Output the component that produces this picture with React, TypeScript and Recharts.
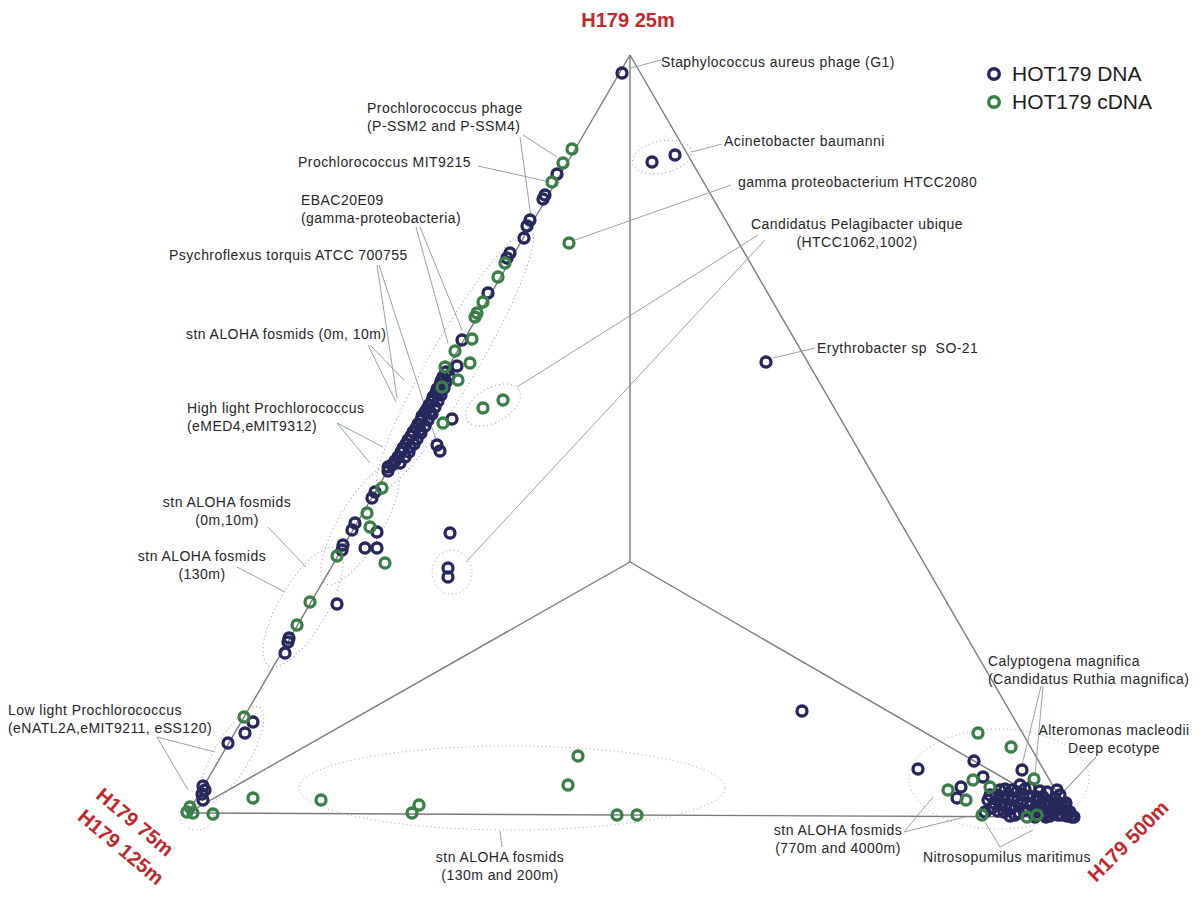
import { ScatterChart, Scatter, XAxis, YAxis, ReferenceLine, Legend } from "recharts"

const W = 1202
const H = 909
const FONT = '"Liberation Sans", Arial, Helvetica, sans-serif'
const DNA_COLOR = "#26275c"
const CDNA_COLOR = "#3a7f48"
const TITLE_RED = "#c1272d"

// corners of the projected simplex (plot units)
const apex = { x: 630, y: 55 }
const centre = { x: 630, y: 562 }
const cornerLeft = { x: 188, y: 813 }
const cornerRight = { x: 1071, y: 817 }

const frameEdges = [
  [apex, cornerLeft],
  [apex, cornerRight],
  [cornerLeft, cornerRight],
  [centre, apex],
  [centre, cornerLeft],
  [centre, cornerRight],
]

// HOT179 DNA
const dnaPoints = [
  { x: 622, y: 73 }, { x: 652, y: 162 }, { x: 675, y: 155 }, { x: 766, y: 362 },
  { x: 557, y: 174 }, { x: 545, y: 195 }, { x: 543, y: 199 }, { x: 530, y: 220 },
  { x: 527, y: 226 }, { x: 524, y: 238 }, { x: 510, y: 253 }, { x: 507, y: 258 },
  { x: 488, y: 293 }, { x: 462, y: 340 }, { x: 457, y: 366 },
  { x: 446, y: 372 }, { x: 443, y: 377 }, { x: 441, y: 381 }, { x: 440, y: 385 },
  { x: 437, y: 389 }, { x: 436, y: 393 }, { x: 433, y: 397 }, { x: 432, y: 401 },
  { x: 429, y: 405 }, { x: 427, y: 409 }, { x: 425, y: 412 }, { x: 422, y: 416 },
  { x: 421, y: 420 }, { x: 418, y: 424 }, { x: 416, y: 428 }, { x: 413, y: 432 },
  { x: 411, y: 436 }, { x: 408, y: 440 }, { x: 406, y: 444 }, { x: 403, y: 448 },
  { x: 401, y: 452 }, { x: 398, y: 457 }, { x: 395, y: 461 }, { x: 392, y: 465 },
  { x: 388, y: 467 }, { x: 439, y: 392 }, { x: 430, y: 412 }, { x: 420, y: 430 },
  { x: 410, y: 447 }, { x: 449, y: 376 }, { x: 446, y: 382 }, { x: 444, y: 388 },
  { x: 441, y: 395 }, { x: 438, y: 401 }, { x: 435, y: 407 }, { x: 432, y: 414 },
  { x: 428, y: 420 }, { x: 425, y: 426 }, { x: 421, y: 433 }, { x: 417, y: 439 },
  { x: 414, y: 444 }, { x: 409, y: 452 }, { x: 405, y: 457 }, { x: 400, y: 463 },
  { x: 452, y: 419 }, { x: 437, y: 445 }, { x: 440, y: 451 },
  { x: 388, y: 471 }, { x: 375, y: 492 }, { x: 372, y: 498 }, { x: 355, y: 523 },
  { x: 352, y: 530 }, { x: 377, y: 532 }, { x: 365, y: 548 }, { x: 377, y: 548 },
  { x: 343, y: 545 }, { x: 342, y: 550 }, { x: 450, y: 533 }, { x: 448, y: 568 },
  { x: 448, y: 577 }, { x: 337, y: 604 }, { x: 289, y: 638 }, { x: 288, y: 642 },
  { x: 285, y: 653 }, { x: 253, y: 722 }, { x: 245, y: 733 }, { x: 228, y: 743 },
  { x: 203, y: 786 }, { x: 205, y: 790 }, { x: 202, y: 794 }, { x: 203, y: 800 },
  { x: 802, y: 711 }, { x: 918, y: 769 }, { x: 974, y: 761 }, { x: 1022, y: 770 },
  { x: 983, y: 777 }, { x: 961, y: 787 }, { x: 957, y: 798 }, { x: 1043, y: 797 },
  { x: 1050, y: 802 }, { x: 988, y: 800 }, { x: 992, y: 808 }, { x: 996, y: 795 },
  { x: 1000, y: 805 }, { x: 1004, y: 812 }, { x: 1008, y: 798 }, { x: 1012, y: 790 },
  { x: 1015, y: 806 }, { x: 1019, y: 813 }, { x: 1023, y: 795 }, { x: 1027, y: 803 },
  { x: 1030, y: 788 }, { x: 1033, y: 810 }, { x: 1037, y: 797 }, { x: 1040, y: 806 },
  { x: 1044, y: 814 }, { x: 1047, y: 792 }, { x: 1052, y: 809 }, { x: 1055, y: 798 },
  { x: 1058, y: 815 }, { x: 1061, y: 804 }, { x: 1064, y: 810 }, { x: 1067, y: 816 },
  { x: 1070, y: 812 }, { x: 1072, y: 817 }, { x: 1000, y: 790 }, { x: 1020, y: 785 },
  { x: 1010, y: 816 }, { x: 1045, y: 803 }, { x: 1060, y: 795 }, { x: 1066, y: 803 },
  { x: 985, y: 812 }, { x: 990, y: 795 }, { x: 994, y: 803 }, { x: 998, y: 811 },
  { x: 1002, y: 797 }, { x: 1006, y: 805 }, { x: 1010, y: 809 }, { x: 1014, y: 798 },
  { x: 1017, y: 792 }, { x: 1021, y: 803 }, { x: 1025, y: 810 }, { x: 1029, y: 796 },
  { x: 1032, y: 804 }, { x: 1036, y: 812 }, { x: 1039, y: 800 }, { x: 1042, y: 808 },
  { x: 1046, y: 817 }, { x: 1049, y: 806 }, { x: 1053, y: 813 }, { x: 1056, y: 803 },
  { x: 1059, y: 809 }, { x: 1062, y: 815 }, { x: 1065, y: 806 }, { x: 1068, y: 813 },
  { x: 1071, y: 816 }, { x: 1074, y: 817 }, { x: 1005, y: 789 }, { x: 1025, y: 789 },
  { x: 1040, y: 791 }, { x: 1015, y: 815 }, { x: 1035, y: 817 }, { x: 1050, y: 816 },
  { x: 1057, y: 790 },
]

// HOT179 cDNA
const cdnaPoints = [
  { x: 572, y: 149 }, { x: 563, y: 163 }, { x: 552, y: 182 }, { x: 505, y: 263 },
  { x: 498, y: 277 }, { x: 483, y: 302 }, { x: 477, y: 313 }, { x: 475, y: 317 },
  { x: 472, y: 339 }, { x: 455, y: 351 }, { x: 470, y: 363 }, { x: 445, y: 367 },
  { x: 458, y: 380 }, { x: 442, y: 387 }, { x: 443, y: 423 }, { x: 483, y: 408 },
  { x: 503, y: 400 }, { x: 569, y: 243 }, { x: 382, y: 488 }, { x: 367, y: 513 },
  { x: 370, y: 527 }, { x: 337, y: 556 }, { x: 385, y: 563 }, { x: 310, y: 602 },
  { x: 297, y: 625 }, { x: 244, y: 717 }, { x: 190, y: 807 }, { x: 187, y: 812 },
  { x: 193, y: 813 }, { x: 213, y: 814 }, { x: 253, y: 798 }, { x: 321, y: 800 },
  { x: 412, y: 813 }, { x: 419, y: 805 }, { x: 578, y: 756 }, { x: 568, y: 785 },
  { x: 617, y: 815 }, { x: 637, y: 815 }, { x: 978, y: 733 }, { x: 1011, y: 747 },
  { x: 1034, y: 779 }, { x: 973, y: 780 }, { x: 948, y: 790 }, { x: 966, y: 800 },
  { x: 990, y: 787 }, { x: 982, y: 815 }, { x: 1027, y: 817 }, { x: 1037, y: 815 },
]

const seriesNames = ["HOT179 DNA", "HOT179 cDNA"]
const seriesColors = [DNA_COLOR, CDNA_COLOR]

// dotted outlines around groups of genomes
const groupOutlines = [
  { x: 662, y: 157, rx: 30, ry: 16, angle: -12 },
  { x: 455, y: 360, rx: 150, ry: 24, angle: -59.7 },
  { x: 360, y: 525, rx: 68, ry: 22, angle: -59.7 },
  { x: 303, y: 607, rx: 68, ry: 24, angle: -59.7 },
  { x: 232, y: 755, rx: 55, ry: 18, angle: -59.7 },
  { x: 197, y: 816, rx: 17, ry: 14, angle: 0 },
  { x: 493, y: 405, rx: 30, ry: 17, angle: -30 },
  { x: 452, y: 572, rx: 20, ry: 22, angle: 0 },
  { x: 512, y: 788, rx: 213, ry: 42, angle: 0 },
  { x: 999, y: 779, rx: 90, ry: 50, angle: 0 },
]

const notes = [
  { x: 661, y: 62, anchor: "start", lines: ["Staphylococcus aureus phage (G1)"] },
  { x: 367, y: 108, anchor: "start", lines: ["Prochlorococcus phage", "(P-SSM2 and P-SSM4)"] },
  { x: 298, y: 162, anchor: "start", lines: ["Prochlorococcus MIT9215"] },
  { x: 301, y: 200, anchor: "start", lines: ["EBAC20E09", "(gamma-proteobacteria)"] },
  { x: 169, y: 255, anchor: "start", lines: ["Psychroflexus torquis ATCC 700755"] },
  { x: 186, y: 334, anchor: "start", lines: ["stn ALOHA fosmids (0m, 10m)"] },
  { x: 187, y: 408, anchor: "start", lines: ["High light Prochlorococcus", "(eMED4,eMIT9312)"] },
  { x: 227, y: 502, anchor: "middle", lines: ["stn ALOHA fosmids", "(0m,10m)"] },
  { x: 202, y: 556, anchor: "middle", lines: ["stn ALOHA fosmids", "(130m)"] },
  { x: 8, y: 710, anchor: "start", lines: ["Low light Prochlorococcus", "(eNATL2A,eMIT9211, eSS120)"] },
  { x: 500, y: 857, anchor: "middle", lines: ["stn ALOHA fosmids", "(130m and 200m)"] },
  { x: 724, y: 141, anchor: "start", lines: ["Acinetobacter baumanni"] },
  { x: 738, y: 182, anchor: "start", lines: ["gamma proteobacterium HTCC2080"] },
  { x: 857, y: 224, anchor: "middle", lines: ["Candidatus Pelagibacter ubique", "(HTCC1062,1002)"] },
  { x: 817, y: 348, anchor: "start", lines: ["Erythrobacter sp\u00a0 SO-21"] },
  { x: 988, y: 661, anchor: "start", lines: ["Calyptogena magnifica", "(Candidatus Ruthia magnifica)"] },
  { x: 1114, y: 730, anchor: "middle", lines: ["Alteromonas macleodii", "Deep ecotype"] },
  { x: 838, y: 830, anchor: "middle", lines: ["stn ALOHA fosmids", "(770m and 4000m)"] },
  { x: 923, y: 857, anchor: "start", lines: ["Nitrosopumilus maritimus"] },
]

const leaders = [
  [{ x: 631, y: 68 }, { x: 661, y: 60 }],
  [{ x: 523, y: 135 }, { x: 557, y: 157 }],
  [{ x: 520, y: 137 }, { x: 531, y: 217 }],
  [{ x: 478, y: 166 }, { x: 550, y: 182 }],
  [{ x: 416, y: 227 }, { x: 448, y: 343 }],
  [{ x: 420, y: 227 }, { x: 462, y: 330 }],
  [{ x: 377, y: 265 }, { x: 397, y: 398 }],
  [{ x: 379, y: 265 }, { x: 436, y: 440 }],
  [{ x: 370, y: 345 }, { x: 404, y: 380 }],
  [{ x: 368, y: 345 }, { x: 396, y: 402 }],
  [{ x: 337, y: 423 }, { x: 383, y: 447 }],
  [{ x: 337, y: 423 }, { x: 370, y: 463 }],
  [{ x: 268, y: 527 }, { x: 306, y: 567 }],
  [{ x: 237, y: 567 }, { x: 285, y: 592 }],
  [{ x: 157, y: 737 }, { x: 215, y: 752 }],
  [{ x: 157, y: 737 }, { x: 188, y: 790 }],
  [{ x: 500, y: 831 }, { x: 502, y: 847 }],
  [{ x: 722, y: 144 }, { x: 692, y: 152 }],
  [{ x: 731, y: 185 }, { x: 575, y: 240 }],
  [{ x: 758, y: 235 }, { x: 517, y: 387 }],
  [{ x: 765, y: 240 }, { x: 466, y: 562 }],
  [{ x: 815, y: 348 }, { x: 773, y: 358 }],
  [{ x: 1041, y: 686 }, { x: 1022, y: 765 }],
  [{ x: 1043, y: 686 }, { x: 1035, y: 775 }],
  [{ x: 1096, y: 757 }, { x: 1062, y: 793 }],
  [{ x: 1096, y: 757 }, { x: 1056, y: 800 }],
  [{ x: 904, y: 832 }, { x: 933, y: 797 }],
  [{ x: 904, y: 832 }, { x: 965, y: 817 }],
  [{ x: 1000, y: 847 }, { x: 985, y: 822 }],
  [{ x: 1000, y: 847 }, { x: 1033, y: 830 }],
]

// corner titles of the three depths
const cornerTitles = [
  { x: 628, y: 20, angle: 0, text: "H179 25m" },
  { x: 135, y: 822, angle: 40, text: "H179 75m" },
  { x: 121, y: 847, angle: 40, text: "H179 125m" },
  { x: 1128, y: 841, angle: -45, text: "H179 500m" },
]

const ring = (color: string) => (p: any) => (
  <circle cx={p.cx} cy={p.cy} r={5} fill="none" stroke={color} strokeWidth={3.3} />
)

const Outline = (p: any) => (
  <ellipse
    cx={p.cx}
    cy={p.cy}
    rx={p.payload.rx}
    ry={p.payload.ry}
    transform={`rotate(${p.payload.angle} ${p.cx} ${p.cy})`}
    fill="none"
    stroke="#9c9c9c"
    strokeWidth={1}
    strokeDasharray="1 3"
  />
)

const Note = (p: any) => (
  <text
    x={p.cx}
    y={p.cy}
    textAnchor={p.payload.anchor}
    dominantBaseline="central"
    fontFamily={FONT}
    fontSize={14}
    letterSpacing={0.45}
    fill="#262626"
  >
    {p.payload.lines.map((t: string, i: number) => (
      <tspan key={i} x={p.cx} dy={i === 0 ? 0 : 18}>
        {t}
      </tspan>
    ))}
  </text>
)

const CornerTitle = (p: any) => (
  <text
    x={p.cx}
    y={p.cy}
    textAnchor="middle"
    dominantBaseline="central"
    transform={`rotate(${p.payload.angle} ${p.cx} ${p.cy})`}
    fontFamily={FONT}
    fontWeight="bold"
    fontSize={20}
    fill={TITLE_RED}
  >
    {p.payload.text}
  </text>
)

const LegendBox = () => (
  <div style={{ fontFamily: FONT, fontSize: 21, color: "#1d1d1d", lineHeight: "28px" }}>
    {seriesNames.map((name, i) => (
      <div key={name} style={{ display: "flex", alignItems: "center" }}>
        <svg width={18} height={18} style={{ marginRight: 9 }}>
          <circle cx={9} cy={9} r={5.3} fill="none" stroke={seriesColors[i]} strokeWidth={3.4} />
        </svg>
        {name}
      </div>
    ))}
  </div>
)

export default function App() {
  return (
    <div style={{ position: "absolute", left: 0, top: 0, background: "#fff" }}>
      <ScatterChart width={W} height={H} margin={{ top: 0, right: 0, bottom: 0, left: 0 }}>
        <XAxis type="number" dataKey="x" domain={[0, W]} hide allowDataOverflow />
        <YAxis type="number" dataKey="y" domain={[0, H]} reversed hide allowDataOverflow />
        {frameEdges.map((seg, i) => (
          <ReferenceLine key={`e${i}`} segment={seg} stroke="#7a7a7a" strokeWidth={1.4} ifOverflow="visible" />
        ))}
        {leaders.map((seg, i) => (
          <ReferenceLine key={`l${i}`} segment={seg} stroke="#8a989b" strokeWidth={0.9} ifOverflow="visible" />
        ))}
        <Scatter data={groupOutlines} shape={Outline} isAnimationActive={false} legendType="none" />
        <Scatter data={notes} shape={Note} isAnimationActive={false} legendType="none" />
        <Scatter data={cornerTitles} shape={CornerTitle} isAnimationActive={false} legendType="none" />
        <Scatter name={seriesNames[0]} data={dnaPoints} shape={ring(DNA_COLOR)} isAnimationActive={false} />
        <Scatter name={seriesNames[1]} data={cdnaPoints} shape={ring(CDNA_COLOR)} isAnimationActive={false} />
        <Legend
          layout="horizontal"
          verticalAlign="middle"
          align="center"
          content={<LegendBox />}
          wrapperStyle={{ top: 60, left: 985, width: 210 }}
        />
      </ScatterChart>
    </div>
  )
}
